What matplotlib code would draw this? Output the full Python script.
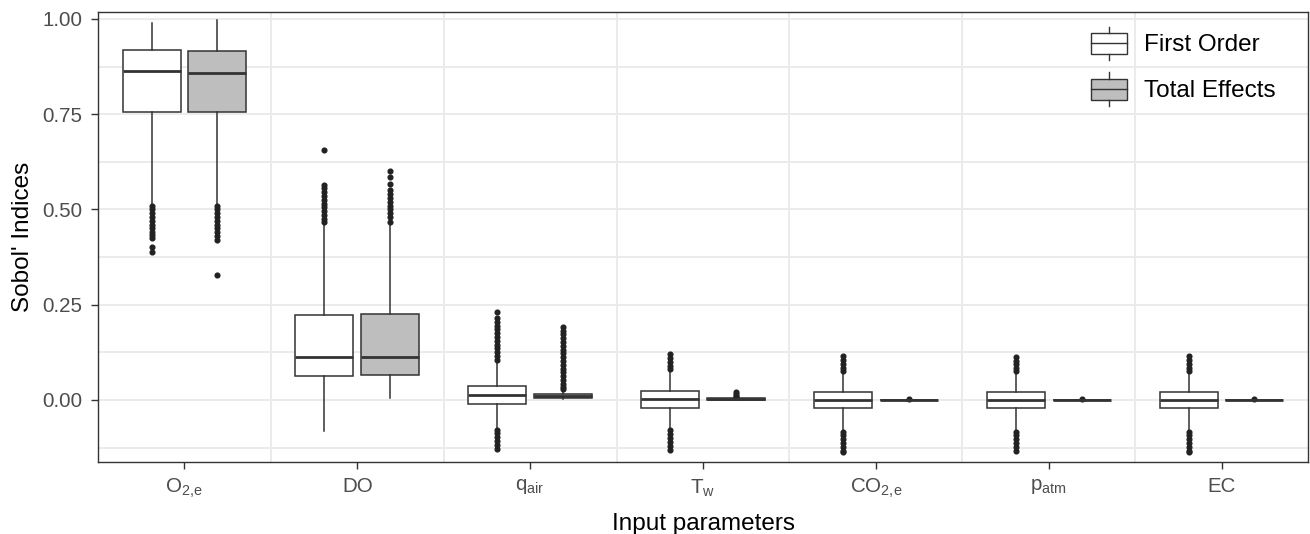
import matplotlib
matplotlib.use("Agg")
import matplotlib.pyplot as plt
from matplotlib.legend_handler import HandlerBase
from matplotlib.patches import Rectangle, Patch
from matplotlib.lines import Line2D

plt.rcParams['font.family'] = ['Liberation Sans', 'DejaVu Sans']
plt.rcParams['mathtext.fontset'] = 'custom'
plt.rcParams['mathtext.rm'] = 'Liberation Sans'
plt.rcParams['mathtext.it'] = 'Liberation Sans:italic'
plt.rcParams['mathtext.bf'] = 'Liberation Sans:bold'

# input parameters (x axis)
categories = [r'$\mathrm{O_{2,\!e}}$', 'DO', r'$\mathrm{q_{air}}$', r'$\mathrm{T_w}$',
              r'$\mathrm{CO_{2,\!e}}$', r'$\mathrm{p_{atm}}$', 'EC']

# first order indices
first_q1 = [0.755, 0.063, -0.010, -0.020, -0.022, -0.022, -0.022]
first_med = [0.862, 0.113, 0.014, 0.0035, 0.0, 0.0, 0.0]
first_q3 = [0.917, 0.222, 0.037, 0.023, 0.020, 0.020, 0.020]
first_lo = [0.515, -0.081, -0.074, -0.077, -0.080, -0.080, -0.080]
first_hi = [0.990, 0.465, 0.103, 0.079, 0.072, 0.072, 0.072]
first_fliers = [
    [0.510, 0.500, 0.490, 0.480, 0.470, 0.460, 0.450, 0.440, 0.432, 0.425, 0.400, 0.388],
    [0.656, 0.565, 0.555, 0.545, 0.535, 0.525, 0.515, 0.505, 0.495, 0.485, 0.475, 0.468],
    [0.230, 0.214, 0.205, 0.195, 0.185, 0.175, 0.165, 0.155, 0.145, 0.135, 0.125, 0.115, 0.106,
     -0.078, -0.088, -0.098, -0.108, -0.118, -0.129],
    [0.120, 0.110, 0.100, 0.090, 0.081, -0.080, -0.090, -0.100, -0.110, -0.120, -0.131],
    [0.115, 0.105, 0.095, 0.085, 0.075, -0.083, -0.093, -0.103, -0.113, -0.123, -0.133, -0.138],
    [0.113, 0.103, 0.093, 0.083, 0.075, -0.083, -0.093, -0.103, -0.113, -0.123, -0.134],
    [0.114, 0.104, 0.094, 0.084, 0.075, -0.083, -0.093, -0.103, -0.113, -0.123, -0.133, -0.138],
]

# total effects indices
total_q1 = [0.755, 0.065, 0.006, 0.001, -0.001, -0.001, -0.001]
total_med = [0.857, 0.113, 0.011, 0.0025, 0.0, 0.0, 0.0]
total_q3 = [0.915, 0.225, 0.0165, 0.004, 0.001, 0.001, 0.001]
total_lo = [0.515, 0.005, 0.002, 0.0, -0.003, -0.003, -0.003]
total_hi = [0.998, 0.465, 0.026, 0.006, 0.003, 0.003, 0.003]
total_fliers = [
    [0.510, 0.500, 0.490, 0.480, 0.470, 0.460, 0.450, 0.440, 0.430, 0.420, 0.328],
    [0.602, 0.585, 0.566, 0.551, 0.540, 0.530, 0.520, 0.510, 0.500, 0.490, 0.480, 0.468],
    [0.192, 0.182, 0.172, 0.162, 0.152, 0.142, 0.132, 0.122, 0.112, 0.102, 0.092, 0.082,
     0.072, 0.062, 0.052, 0.042, 0.034, 0.028],
    [0.021, 0.016, 0.011, 0.007],
    [0.0015],
    [0.0015],
    [0.0015],
]

series_names = ['First Order', 'Total Effects']
series_fill = ['white', '#BEBEBE']
edge = '#333333'


def make_stats(q1, med, q3, lo, hi, fliers):
    return [dict(q1=a, med=b, q3=c, whislo=d, whishi=e, fliers=f)
            for a, b, c, d, e, f in zip(q1, med, q3, lo, hi, fliers)]


class BoxKey(HandlerBase):
    # legend key drawn like a small boxplot
    def create_artists(self, legend, orig_handle, xdescent, ydescent,
                       width, height, fontsize, trans):
        x0, y0 = -xdescent, -ydescent
        bh = height * 0.62
        by = y0 + (height - bh) / 2
        xm = x0 + width / 2
        rect = Rectangle((x0, by), width, bh, facecolor=orig_handle.get_facecolor(),
                         edgecolor=edge, lw=1.0, transform=trans)
        med = Line2D([x0, x0 + width], [y0 + height / 2] * 2, color=edge, lw=1.0, transform=trans)
        w1 = Line2D([xm, xm], [y0, by], color=edge, lw=1.0, transform=trans)
        w2 = Line2D([xm, xm], [by + bh, y0 + height], color=edge, lw=1.0, transform=trans)
        return [rect, med, w1, w2]


fig = plt.figure(figsize=(13.1, 5.34), dpi=100)
ax = fig.add_axes([0.0748, 0.1348, 0.9237, 0.8427])

n = len(categories)
pos = list(range(1, n + 1))
offset = 0.19
bw = 0.336

common = dict(widths=bw, patch_artist=True, showcaps=False, manage_ticks=False,
              medianprops=dict(color=edge, lw=2.0, solid_capstyle='butt'),
              whiskerprops=dict(color=edge, lw=1.1),
              flierprops=dict(marker='o', markersize=3.4, markerfacecolor='#222222',
                              markeredgecolor='#222222', linestyle='none'))

stats_sets = [make_stats(first_q1, first_med, first_q3, first_lo, first_hi, first_fliers),
              make_stats(total_q1, total_med, total_q3, total_lo, total_hi, total_fliers)]
for k, st in enumerate(stats_sets):
    p = [x + (2 * k - 1) * offset for x in pos]
    ax.bxp(st, positions=p,
           boxprops=dict(facecolor=series_fill[k], edgecolor=edge, lw=1.1), **common)

ax.set_xlim(0.5, n + 0.5)
ax.set_ylim(-0.163, 1.018)
ax.set_xticks(pos)
ax.set_xticklabels(categories)
ax.set_xticks([x + 0.5 for x in pos[:-1]], minor=True)
ax.set_yticks([0, 0.25, 0.5, 0.75, 1.0])
ax.set_yticklabels(['0.00', '0.25', '0.50', '0.75', '1.00'])
ax.set_yticks([-0.125, 0.125, 0.375, 0.625, 0.875], minor=True)

ax.grid(which='major', axis='y', color='#EBEBEB', lw=1.4)
ax.grid(which='minor', axis='both', color='#EBEBEB', lw=1.4)
ax.set_axisbelow(True)

ax.tick_params(which='major', length=5, width=1.0, color=edge, labelsize=14.8,
               labelcolor='#4D4D4D', pad=6)
ax.tick_params(which='minor', length=0)
for s in ax.spines.values():
    s.set_color(edge)
    s.set_linewidth(1.0)

ax.set_xlabel('Input parameters', fontsize=17.5, labelpad=9)
ax.set_ylabel("Sobol' Indices", fontsize=17.5, labelpad=6)

handles = [Patch(facecolor=c) for c in series_fill]
ax.legend(handles, series_names, handler_map={Patch: BoxKey()}, loc='upper right',
          bbox_to_anchor=(1 - 18 / 1210, 1.0),
          frameon=False, fontsize=17.5, handlelength=1.48, handleheight=1.75,
          handletextpad=0.7, labelspacing=0.5, borderaxespad=0.3, borderpad=0.3)

fig.savefig('out.png', dpi=100)
